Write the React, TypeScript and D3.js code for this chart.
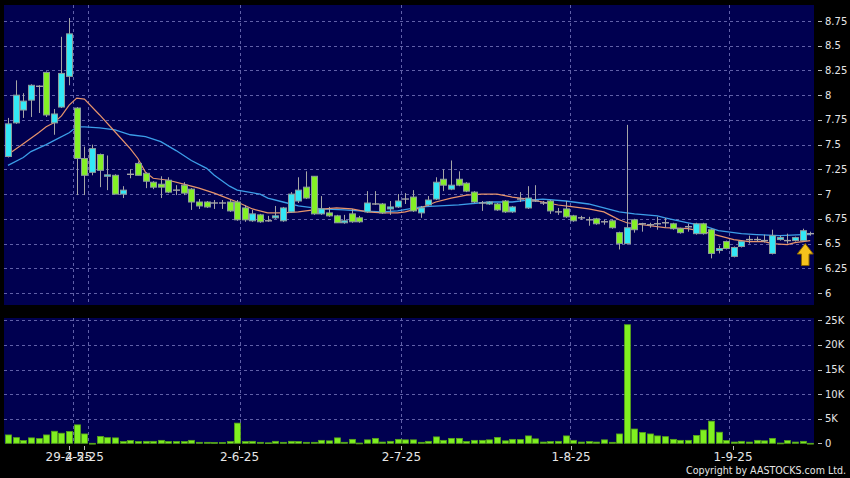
import React from "react";
import * as d3 from "d3";

// ---- data ----
const opens = [7.38,7.72,7.85,7.95,8.09,8.23,7.72,7.88,8.19,7.87,7.36,7.22,7.40,7.185,7.19,7.00,7.20,7.31,7.21,7.12,7.10,7.14,7.04,7.09,7.05,6.92,6.92,6.91,6.91,6.92,6.92,6.86,6.73,6.79,6.73,6.76,6.73,6.82,6.93,7.07,7.18,6.80,6.81,6.78,6.71,6.80,6.76,6.82,6.90,6.90,6.85,6.87,6.95,6.97,6.81,6.89,6.95,7.15,7.05,7.15,7.11,7.02,6.91,6.90,6.90,6.93,6.82,6.95,6.86,6.93,6.91,6.93,6.82,6.85,6.78,6.76,6.74,6.75,6.72,6.73,6.61,6.50,6.74,6.70,6.69,6.70,6.71,6.70,6.65,6.67,6.60,6.70,6.64,6.43,6.52,6.37,6.47,6.54,6.54,6.53,6.40,6.54,6.53,6.53,6.53,6.60];
const highs = [7.77,8.15,8.02,8.11,8.10,8.24,7.86,8.59,8.78,7.88,7.48,7.50,7.41,7.39,7.20,7.08,7.25,7.33,7.22,7.13,7.18,7.17,7.09,7.12,7.06,6.95,6.93,6.94,6.94,6.94,6.94,6.89,6.84,6.80,6.78,6.88,6.87,7.02,7.17,7.23,7.18,6.98,6.87,6.79,6.79,6.85,6.78,7.03,7.03,6.91,6.93,7.00,7.01,7.04,6.88,6.98,7.17,7.25,7.34,7.23,7.12,7.03,6.93,6.93,6.91,6.94,6.88,7.02,7.08,7.09,6.93,6.94,6.86,6.93,6.79,6.78,6.77,6.76,6.74,6.74,6.62,7.70,6.75,6.71,6.71,6.77,6.76,6.71,6.66,6.70,6.71,6.71,6.65,6.48,6.53,6.47,6.53,6.58,6.57,6.59,6.64,6.58,6.60,6.57,6.65,6.62];
const lows = [7.37,7.71,7.77,7.78,7.82,7.78,7.60,7.87,8.10,6.99,6.99,7.19,7.07,7.04,7.00,6.96,7.16,7.19,7.06,7.05,6.96,7.01,6.99,6.99,6.84,6.85,6.86,6.85,6.85,6.82,6.73,6.72,6.72,6.71,6.72,6.75,6.72,6.81,6.91,6.95,6.79,6.79,6.77,6.71,6.70,6.71,6.71,6.81,6.89,6.80,6.79,6.86,6.90,6.82,6.76,6.88,6.94,7.03,7.04,7.08,7.02,6.91,6.83,6.89,6.83,6.81,6.81,6.92,6.85,6.92,6.89,6.80,6.79,6.76,6.72,6.74,6.68,6.69,6.69,6.65,6.44,6.49,6.61,6.62,6.66,6.64,6.66,6.64,6.60,6.62,6.59,6.59,6.35,6.40,6.44,6.36,6.46,6.50,6.52,6.51,6.39,6.53,6.50,6.52,6.52,6.58];
const closes = [7.71,8.00,7.94,8.10,8.09,7.80,7.81,8.22,8.62,7.36,7.19,7.46,7.24,7.195,7.00,7.04,7.20,7.19,7.13,7.07,7.07,7.02,7.04,7.01,6.92,6.88,6.87,6.91,6.91,6.83,6.74,6.74,6.80,6.72,6.73,6.78,6.86,7.00,7.04,6.96,6.80,6.85,6.78,6.71,6.73,6.72,6.72,6.91,6.90,6.81,6.87,6.93,6.95,6.83,6.86,6.94,7.12,7.09,7.09,7.09,7.03,6.92,6.91,6.92,6.84,6.82,6.87,6.95,6.96,6.93,6.91,6.83,6.82,6.77,6.73,6.76,6.74,6.70,6.72,6.66,6.50,6.66,6.64,6.70,6.69,6.70,6.71,6.65,6.61,6.67,6.70,6.60,6.40,6.45,6.45,6.46,6.52,6.54,6.54,6.53,6.58,6.56,6.53,6.56,6.63,6.60];
const volumesK = [1.7,1.15,0.55,1.1,0.95,1.7,2.45,2.05,2.4,3.75,1.9,0,1.4,1.15,1.1,0.35,0.55,0.35,0.4,0.4,0.6,0.35,0.35,0.35,0.6,0.2,0.2,0.15,0.15,0.35,4.1,0.35,0.4,0.2,0.1,0.4,0.2,0.4,0.35,0.2,0.2,0.6,0.5,1.1,0.2,0.8,0.05,0.7,1.0,0.25,0.4,0.8,0.7,0.7,0.2,0.4,1.3,0.6,1.0,1.0,0.35,0.6,0.6,0.7,1.2,0.5,0.8,0.75,1.5,0.9,0.25,0.35,0.4,1.5,0.6,0.25,0.35,0.25,0.7,0.2,1.9,24.1,2.9,2.2,1.9,1.5,1.35,0.8,0.6,0.6,1.6,2.7,4.5,2.25,0.55,0.25,0.4,0.25,0.6,0.5,1.0,0.05,0.55,0.25,0.4,0];

const ma10Idx = [0,2,4,5,6,7,8,9,10,12,14,16,17,18,19,21,23,25,27,28,30,32,34,36,38,40,43,45,47,49,51,52,54,56,58,60,62,64,66,68,70,72,74,76,78,79,80,81,83,86,89,91,93,95,97,99,100,102,103,105];
const ma10Val = [7.40,7.51,7.62,7.68,7.72,7.79,7.90,7.97,7.96,7.80,7.63,7.46,7.36,7.22,7.16,7.14,7.10,7.06,7.01,6.98,6.92,6.85,6.81,6.81,6.82,6.84,6.86,6.85,6.82,6.81,6.81,6.82,6.86,6.92,6.96,6.99,7.00,7.00,6.97,6.95,6.92,6.89,6.87,6.85,6.82,6.78,6.74,6.71,6.69,6.66,6.65,6.62,6.58,6.54,6.52,6.52,6.50,6.49,6.51,6.53];
const ma20Idx = [0,2,3,5,6,8,9,10,12,14,16,18,20,22,24,26,27,29,30,33,34,36,38,41,44,46,49,51,54,59,63,66,68,70,73,76,78,80,82,85,86,89,91,93,96,98,101,104,105];
const ma20Val = [7.29,7.37,7.43,7.50,7.54,7.62,7.68,7.68,7.67,7.65,7.60,7.58,7.53,7.44,7.34,7.26,7.19,7.08,7.04,7.00,6.96,6.92,6.88,6.85,6.84,6.83,6.82,6.83,6.87,6.89,6.92,6.92,6.94,6.95,6.93,6.90,6.86,6.82,6.80,6.78,6.76,6.71,6.68,6.63,6.60,6.59,6.58,6.59,6.59];

const priceTicks = [6,6.25,6.5,6.75,7,7.25,7.5,7.75,8,8.25,8.5,8.75];
const priceLabels = ["6","6.25","6.5","6.75","7","7.25","7.5","7.75","8","8.25","8.5","8.75"];
const volTicks = [0,5,10,15,20,25];
const volLabels = ["0","5K","10K","15K","20K","25K"];
const dateLabels = ["29-4-25","2-5-25","2-6-25","2-7-25","1-8-25","1-9-25"];
const datePos = [7.98,9.98,30.3,51.5,73.7,94.9];
const gridPos = [8.45,10.5,30.4,51.5,73.5,94.4];
const markerIndex = 104.35;
const markerPrice = 6.5;

// ---- layout ----
const W = 850, H = 478;
const PL = 4, PR = 814;
const mainTop = 5, mainBot = 305;
const volTop = 318, volBot = 443.5;
const BG = "#000050";
const GRID = "#6060a8";
const TXT = "#e6e6e6";
const UP = "#33e8f6";
const DOWN = "#84f026";
const WICK = "#a6a6a6";
const FONT = "DejaVu Sans, Verdana, sans-serif";

export default function App() {
  const n = closes.length;
  const x = d3.scaleLinear().domain([0, n - 1]).range([8, 810.2]);
  const y = d3.scaleLinear().domain([6, 8.75]).range([293, 21]);
  const yv = d3.scaleLinear().domain([0, 25]).range([443.3, 320.3]);

  const ma10 = d3.line<number>().x((_, i) => x(ma10Idx[i])).y((d) => y(d));
  const ma20 = d3.line<number>().x((_, i) => x(ma20Idx[i])).y((d) => y(d));

  const bw = 6;
  const axp = x(markerIndex), ayp = y(markerPrice);
  const arrow = `M${axp},${ayp} L${axp + 8},${ayp + 10.5} L${axp + 3.8},${ayp + 10.5} L${axp + 3.8},${ayp + 22} L${axp - 3.8},${ayp + 22} L${axp - 3.8},${ayp + 10.5} L${axp - 8},${ayp + 10.5} Z`;

  return (
    <svg width={W} height={H} style={{ position: "fixed", left: 0, top: 0, display: "block" }} fontFamily={FONT}>
      <rect x={0} y={0} width={W} height={H} fill="#000" />
      <rect x={PL} y={mainTop} width={PR - PL} height={mainBot - mainTop} fill={BG} />
      <rect x={PL} y={volTop} width={PR - PL} height={volBot - volTop} fill={BG} />

      {/* grid */}
      <g stroke={GRID} strokeWidth={1} strokeDasharray="3,3" shapeRendering="crispEdges">
        {priceTicks.map((p, i) => (
          <line key={"hp" + i} x1={PL} x2={PR} y1={Math.round(y(p)) + 0.5} y2={Math.round(y(p)) + 0.5} />
        ))}
        {volTicks.slice(1).map((v, i) => (
          <line key={"hv" + i} x1={PL} x2={PR} y1={Math.round(yv(v)) + 0.5} y2={Math.round(yv(v)) + 0.5} />
        ))}
        {gridPos.map((g, i) => (
          <g key={"vg" + i}>
            <line x1={Math.round(x(g)) + 0.5} x2={Math.round(x(g)) + 0.5} y1={mainTop} y2={mainBot} />
            <line x1={Math.round(x(g)) + 0.5} x2={Math.round(x(g)) + 0.5} y1={volTop} y2={volBot} />
          </g>
        ))}
      </g>

      {/* moving averages */}
      <path d={ma20(ma20Val) || ""} fill="none" stroke="#3c9ee8" strokeWidth={1.3} />
      <path d={ma10(ma10Val) || ""} fill="none" stroke="#e8946c" strokeWidth={1.2} />

      {/* candles */}
      {closes.map((c, i) => {
        const o = opens[i];
        const cx = Math.round(x(i)) + 0.5;
        const top = y(Math.max(o, c));
        const bot = y(Math.min(o, c));
        const doji = Math.abs(o - c) < 0.004;
        return (
          <g key={"c" + i}>
            <line x1={cx} x2={cx} y1={y(highs[i])} y2={y(lows[i])} stroke={WICK} strokeWidth={1} />
            {doji ? (
              <line x1={cx - 3.5} x2={cx + 3.5} y1={y(o)} y2={y(o)} stroke={WICK} strokeWidth={1.4} />
            ) : (
              <rect x={cx - bw / 2} y={top} width={bw} height={Math.max(bot - top, 1.5)}
                fill={c > o ? UP : DOWN} stroke="#8c9c9c" strokeWidth={1} />
            )}
          </g>
        );
      })}

      {/* volume */}
      {volumesK.map((v, i) => {
        const cx = Math.round(x(i)) + 0.5;
        const top = yv(v);
        return (
          <rect key={"v" + i} x={cx - 3} y={top} width={6} height={Math.max(yv(0) - top, 0.8)}
            fill="#80f020" stroke="#56a41a" strokeWidth={0.8} />
        );
      })}

      {/* marker arrow */}
      <path d={arrow} fill="#f6c21c" stroke="#8a6400" strokeWidth={1} />

      {/* right axis labels */}
      <g fill={TXT} fontSize={10}>
        {priceTicks.map((p, i) => (
          <g key={"pl" + i}>
            <line x1={818} x2={822} y1={Math.round(y(p)) + 0.5} y2={Math.round(y(p)) + 0.5} stroke="#bbb" />
            <text x={825} y={y(p)} dominantBaseline="central">{priceLabels[i]}</text>
          </g>
        ))}
        {volTicks.map((v, i) => (
          <g key={"vl" + i}>
            <line x1={818} x2={822} y1={Math.round(yv(v)) + 0.5} y2={Math.round(yv(v)) + 0.5} stroke="#bbb" />
            <text x={825} y={yv(v)} dominantBaseline="central">{volLabels[i]}</text>
          </g>
        ))}
      </g>

      {/* date labels */}
      <g fill={TXT} fontSize={12}>
        {dateLabels.map((d, i) => (
          <g key={"d" + i}>
            <line x1={Math.round(x(datePos[i])) + 0.5} x2={Math.round(x(datePos[i])) + 0.5} y1={446} y2={450} stroke="#bbb" />
            <text x={x(datePos[i])} y={461} textAnchor="middle">{d}</text>
          </g>
        ))}
      </g>

      <text x={846} y={474} textAnchor="end" fill={TXT} fontSize={11} textLength={160} lengthAdjust="spacingAndGlyphs">Copyright by AASTOCKS.com Ltd.</text>
    </svg>
  );
}
